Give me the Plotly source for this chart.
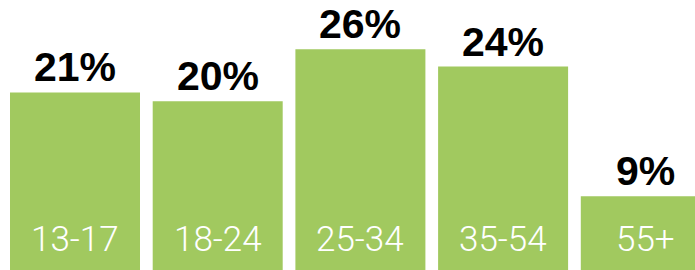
import plotly.graph_objects as go

categories = ["13-17", "18-24", "25-34", "35-54", "55+"]
values = [21, 20, 26, 24, 9]
value_labels = [f"{v}%" for v in values]

GREEN = "#A1C95F"

fig = go.Figure(
    go.Bar(
        x=categories,
        y=values,
        marker=dict(color=GREEN, line=dict(width=0)),
        hoverinfo="skip",
    )
)

annotations = []
for c, v, lab in zip(categories, values, value_labels):
    annotations.append(dict(
        x=c, y=v, xref="x", yref="y", text=lab, showarrow=False,
        xanchor="center", yanchor="bottom", yshift=0,
        font=dict(family="Liberation Sans", size=41, color="#000000", weight="bold"),
    ))
    annotations.append(dict(
        x=c, y=0, xref="x", yref="paper", text=c, showarrow=False,
        xanchor="center", yanchor="bottom", yshift=8,
        font=dict(family="Roboto", size=35, color="#FFFFFF", weight=300),
    ))

fig.update_layout(
    width=695, height=270,
    margin=dict(l=0, r=0, t=0, b=0),
    paper_bgcolor="white", plot_bgcolor="white",
    bargap=0.089,
    showlegend=False,
    xaxis=dict(range=[-0.5256, 4.3448], visible=False, fixedrange=True),
    yaxis=dict(range=[0.481, 31.69], visible=False, fixedrange=True),
    annotations=annotations,
)

fig.write_html(
    "out.html",
    config={"displayModeBar": False},
    post_script="document.body.style.margin='0';document.body.style.overflow='hidden';",
)
